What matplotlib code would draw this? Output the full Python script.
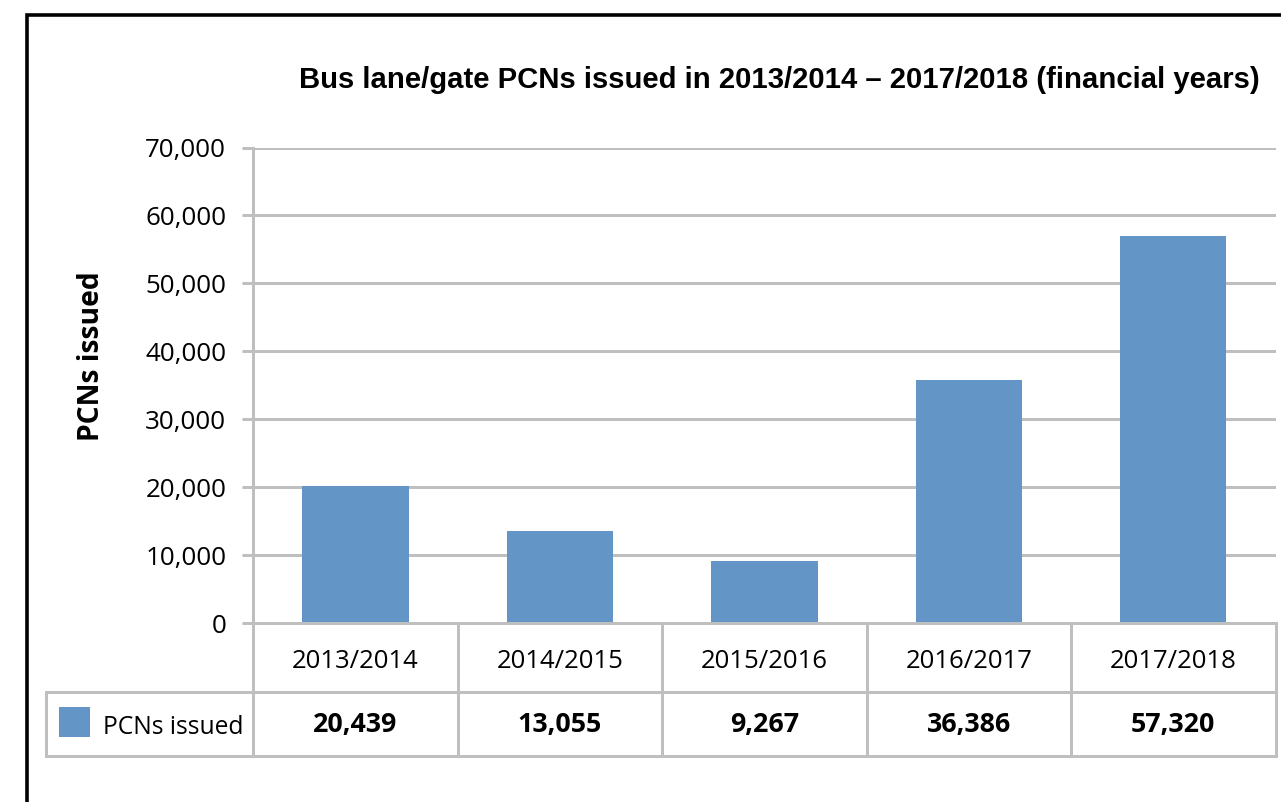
import matplotlib
matplotlib.use("Agg")
import matplotlib.pyplot as plt
from matplotlib.lines import Line2D
from matplotlib.patches import Rectangle

# ---------------- data ----------------
title = "Bus lane/gate PCNs issued in 2013/2014 \u2013 2017/2018 (financial years)"
categories = ["2013/2014", "2014/2015", "2015/2016", "2016/2017", "2017/2018"]
bar_values = [20180, 13590, 9170, 35820, 57020]          # bar heights as drawn
table_values = ["20,439", "13,055", "9,267", "36,386", "57,320"]  # data-table row
series_name = "PCNs issued"
y_label = "PCNs issued"
y_ticks = [0, 10000, 20000, 30000, 40000, 50000, 60000, 70000]
y_tick_labels = ["0", "10,000", "20,000", "30,000", "40,000", "50,000", "60,000", "70,000"]

# ---------------- layout ----------------
W, H, DPI = 1281, 802, 100
BAR = "#6396c6"
GRID = "#bfbfbf"
LW = 3 * 72 / DPI  # 3 px
FONT = "Open Sans"

fig = plt.figure(figsize=(W / DPI, H / DPI), dpi=DPI)
fig.patch.set_facecolor("white")
renderer = fig.canvas.get_renderer()


def fit(text, target_px, **kw):
    t = fig.text(0, 0, text, fontsize=20, **kw)
    w = t.get_window_extent(renderer).width
    t.remove()
    return 20 * target_px / w


def fx(px):
    return px / W


def fy(py):
    return 1 - py / H


AX_L, AX_R, AX_T, AX_B = 253.3, 1275.5, 147.5, 623.3
ax = fig.add_axes([fx(AX_L), fy(AX_B), (AX_R - AX_L) / W, (AX_B - AX_T) / H])
n = len(categories)
ax.set_xlim(-0.5, n - 0.5)
ax.set_ylim(y_ticks[0], y_ticks[-1])
for s in ax.spines.values():
    s.set_visible(False)

x = list(range(n))
ax.bar(x, bar_values, width=0.52, color=BAR, zorder=2)

ax.set_axisbelow(True)
ax.yaxis.grid(True, color=GRID, linewidth=LW, zorder=0)
tick_fs = fit("70,000", 81, family=FONT)
ax.set_yticks(y_ticks)
ax.set_yticklabels(y_tick_labels, fontsize=tick_fs, family=FONT, color="black")
ax.tick_params(axis="y", length=11 * 72 / DPI, width=LW, color=GRID, pad=16 * 72 / DPI)
ax.set_xticks([])

colw = (AX_R - AX_L) / n


def xd(px):
    return -0.5 + (px - AX_L) / colw


def ya(py):
    return (AX_B - py) / (AX_B - AX_T)


tr = ax.get_xaxis_transform()
ROW1, ROW2 = 692, 756
LEFT = 45.7


def gline(xs, ys):
    ax.add_line(Line2D(xs, ys, transform=tr, color=GRID, linewidth=LW,
                       clip_on=False, zorder=3, solid_capstyle="projecting"))


# y axis line continuing into the table
gline([-0.5, -0.5], [1, ya(ROW2)])
# category separators
for k in range(1, n + 1):
    gline([k - 0.5, k - 0.5], [0, ya(ROW2)])
# baseline (0) on top of bars
gline([-0.5, n - 0.5], [0, 0])
# table rows
gline([xd(LEFT), n - 0.5], [ya(ROW1), ya(ROW1)])
gline([xd(LEFT), n - 0.5], [ya(ROW2), ya(ROW2)])
gline([xd(LEFT), xd(LEFT)], [ya(ROW1), ya(ROW2)])

cat_fs = fit("2013/2014", 127, family=FONT)
val_fs = fit("20,439", 84, family=FONT, weight="bold")
leg_fs = fit(series_name, 140, family=FONT)

for i, (c, v) in enumerate(zip(categories, table_values)):
    ax.text(i, ya(668), c, transform=tr, ha="center", va="baseline",
            fontsize=cat_fs, family=FONT, clip_on=False)
    ax.text(i, ya(732), v, transform=tr, ha="center", va="baseline",
            fontsize=val_fs, family=FONT, weight="bold", clip_on=False)

# legend key in the table
ax.add_patch(Rectangle((xd(59), ya(737)), xd(90) - xd(59), ya(707) - ya(737),
                       transform=tr, facecolor=BAR, edgecolor="none", clip_on=False))
ax.text(xd(103), ya(734), series_name, transform=tr, ha="left", va="baseline",
        fontsize=leg_fs, family=FONT, clip_on=False)

# y label
ylab_fs = fit(y_label, 170, family=FONT, weight="bold")
fig.text(fx(99), fy(356), y_label, rotation=90, rotation_mode="anchor",
         ha="center", va="baseline", fontsize=ylab_fs, family=FONT, weight="bold")

# title
title_fs = fit(title, 958, family="Liberation Sans", weight="bold")
fig.text(fx(779), fy(88), title, ha="center", va="baseline", fontsize=title_fs,
         family="Liberation Sans", weight="bold")

# outer black frame (clipped at right / bottom)
fig.add_artist(Line2D([fx(27), fx(27), 1.01], [-0.01, fy(15), fy(15)],
                      transform=fig.transFigure, color="black",
                      linewidth=3.6 * 72 / DPI, solid_joinstyle="miter"))

fig.savefig("out.png", dpi=DPI, facecolor="white")
